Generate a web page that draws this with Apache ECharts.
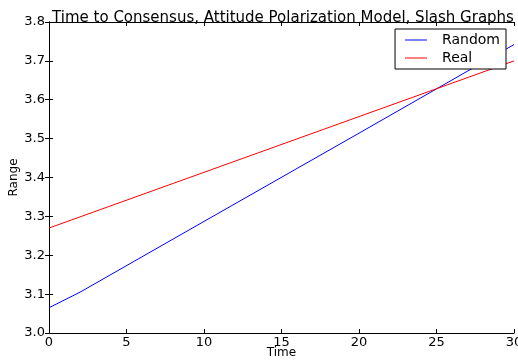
<!DOCTYPE html>
<html><head><meta charset="utf-8">
<script src="https://cdn.jsdelivr.net/npm/echarts@6/dist/echarts.min.js"></script>
<style>html,body{margin:0;padding:0;background:#fff}#c{width:518px;height:360px}</style>
</head><body><div id="c"></div>
<script>
const titleText = "Time to Consensus, Attitude Polarization Model, Slash Graphs";
const xLabel = "Time";
const yLabel = "Range";
const randomX = [0, 2, 10, 20, 30];
const randomY = [3.065, 3.105, 3.287, 3.514, 3.742];
const realX = [0, 30];
const realY = [3.27, 3.70];
const seriesNames = ["Random", "Real"];
const seriesColors = ["#0000ff", "#ff0000"];

const chart = echarts.init(document.getElementById('c'), null, {renderer: 'canvas'});
const font = 'DejaVu Sans';
const axisCommon = {
  axisLine: {show: true, lineStyle: {color: '#000', width: 1}},
  axisTick: {show: true, inside: true, length: 4, lineStyle: {color: '#000'}},
  splitLine: {show: false}
};
chart.setOption({
  animation: false,
  backgroundColor: '#fff',
  title: {text: titleText, left: 278, textAlign: 'center', top: 6,
    textStyle: {fontFamily: font, fontSize: 15, fontWeight: 'normal', color: '#000'}},
  grid: {left: 49, right: 4, top: 22, bottom: 27, containLabel: false, outerBoundsMode: 'none'},
  legend: {
    data: seriesNames.map((n, i) => ({name: n, icon: 'rect', itemStyle: {color: seriesColors[i]}})),
    orient: 'vertical', right: 12, top: 29,
    backgroundColor: '#fff', borderColor: '#000', borderWidth: 1, borderRadius: 0,
    padding: [4, 6, 4, 10], itemWidth: 22, itemHeight: 1, itemGap: 4,
    textStyle: {fontFamily: font, fontSize: 14, color: '#000', padding: [0, 0, 0, 10]}
  },
  xAxis: [
    Object.assign({type: 'value', min: 0, max: 30, interval: 5, position: 'bottom',
      name: xLabel, nameLocation: 'middle', nameGap: 14, nameMoveOverlap: false,
      nameTextStyle: {fontFamily: font, fontSize: 12, color: '#000'},
      axisLabel: {fontFamily: font, fontSize: 13, color: '#000', margin: 3}}, axisCommon),
    Object.assign({type: 'value', min: 0, max: 30, interval: 5, position: 'top',
      axisLabel: {show: false}}, axisCommon)
  ],
  yAxis: [
    Object.assign({type: 'value', min: 3.0, max: 3.8, interval: 0.1, position: 'left',
      name: yLabel, nameLocation: 'middle', nameGap: 29, nameRotate: 90, nameMoveOverlap: false,
      nameTextStyle: {fontFamily: font, fontSize: 12, color: '#000'},
      axisLabel: {fontFamily: font, fontSize: 13, color: '#000', margin: 4,
        formatter: v => v.toFixed(1)}}, axisCommon),
    Object.assign({type: 'value', min: 3.0, max: 3.8, interval: 0.1, position: 'right',
      axisLabel: {show: false}}, axisCommon)
  ],
  series: [
    {name: seriesNames[0], type: 'line', showSymbol: false, symbol: 'none',
      color: seriesColors[0], lineStyle: {color: seriesColors[0], width: 1},
      data: randomX.map((x, i) => [x, randomY[i]])},
    {name: seriesNames[1], type: 'line', showSymbol: false, symbol: 'none',
      color: seriesColors[1], lineStyle: {color: seriesColors[1], width: 1},
      data: realX.map((x, i) => [x, realY[i]])}
  ]
});
</script></body></html>
